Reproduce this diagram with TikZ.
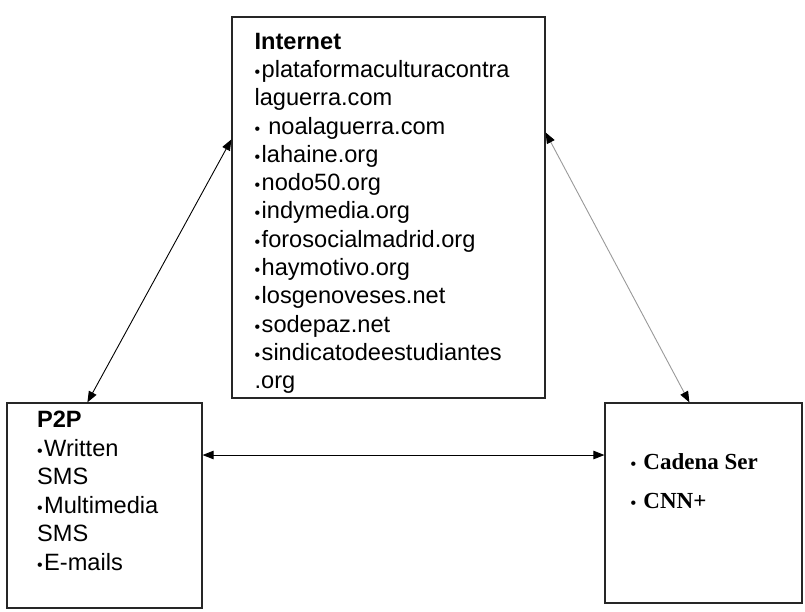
\documentclass[tikz,border=0pt]{standalone}
\usepackage{fontspec}
\setmainfont{Liberation Sans}
\newfontfamily\serifbold[BoldFont={Liberation Serif Bold}]{Liberation Serif}
\usetikzlibrary{positioning, arrows.meta}

\newcommand{\itm}{{\fontsize{16}{16}\selectfont\textbullet}\kern1.5pt}

\begin{document}
\begin{tikzpicture}
  [
  x=1pt, y=-1pt, >={Triangle[length=11pt,width=8.5pt]},
  box/.style={draw=black!85, line width=1.2pt, inner sep=0pt},
  boxtext/.style={inner sep=0pt, align=left, anchor=north west, font=\fontsize{23.6}{28.3}\selectfont},
  link/.style={<->, line width=0.9pt},
  faint link/.style={link, draw=black!40, >={Triangle[length=11pt,width=8.5pt,color=black]}}
  ]
  \useasboundingbox (0,0) rectangle (805,611);

  \node[box, minimum width=313pt, minimum height=381pt] (net)   at (388.5,207.5) {};
  \node[box, minimum width=195pt, minimum height=205pt] (p2p)   at (104.5,505.5) {};
  \node[box, minimum width=197pt, minimum height=200pt] (media) at (703.5,503)   {};

  \node[boxtext] (net text) at ([xshift=23pt,yshift=-16.3pt]net.north west)
    {\textbf{Internet}\\
     \itm plataformaculturacontra\\
     laguerra.com\\
     \itm\ noalaguerra.com\\
     \itm lahaine.org\\
     \itm nodo50.org\\
     \itm indymedia.org\\
     \itm forosocialmadrid.org\\
     \itm haymotivo.org\\
     \itm losgenoveses.net\\
     \itm sodepaz.net\\
     \itm sindicatodeestudiantes\\
     .org};
  \node[boxtext, font=\fontsize{23.6}{28.5}\selectfont] (p2p text) at ([xshift=30.5pt,yshift=-8.5pt]p2p.north west)
    {\textbf{P2P}\\
     \itm Written\\
     SMS\\
     \itm Multimedia\\
     SMS\\
     \itm E-mails};
  \node[boxtext, font=\serifbold\bfseries\fontsize{23}{39}\selectfont] (media text) at ([xshift=26pt,yshift=-50.5pt]media.north west)
    {\itm\ Cadena Ser\\
     \itm\ CNN+};

  \coordinate (hlevel) at (0,455);
  \draw[link] ([yshift=-123pt]net.north west) -- ([xshift=81pt]p2p.north west);
  \draw[faint link] ([yshift=-116pt]net.north east) -- ([xshift=85pt]media.north west);
  \draw[link] (p2p.east |- hlevel) -- (media.west |- hlevel);
\end{tikzpicture}
\end{document}
